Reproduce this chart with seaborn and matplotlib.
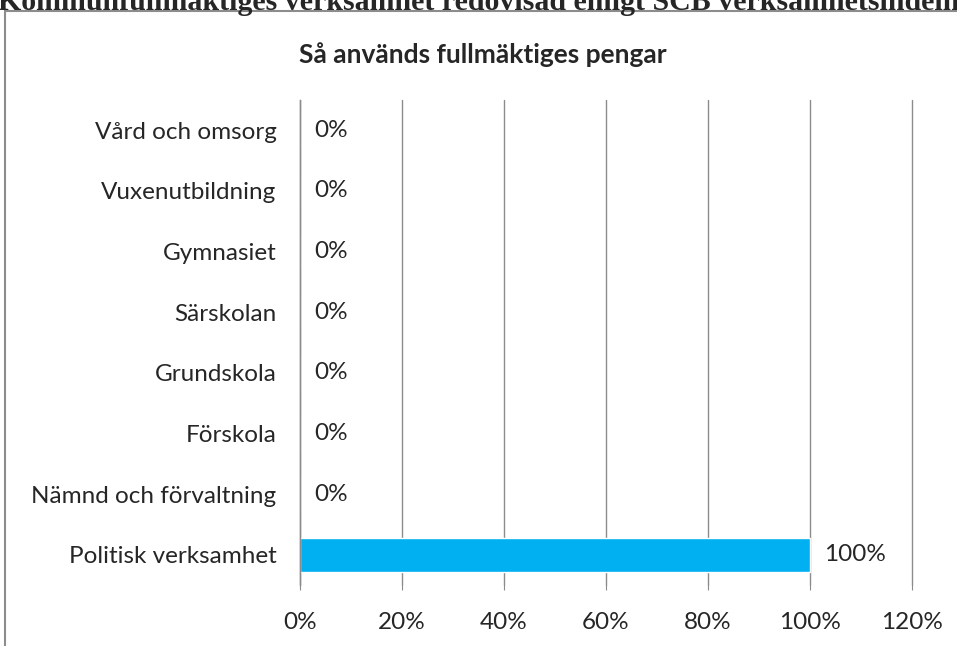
import matplotlib
matplotlib.use("Agg")
from matplotlib import pyplot as plt
from matplotlib.patches import Rectangle
import matplotlib.ticker as mtick
import seaborn as sns
import pandas as pd

categories = ['Vård och omsorg', 'Vuxenutbildning', 'Gymnasiet', 'Särskolan',
              'Grundskola', 'Förskola', 'Nämnd och förvaltning', 'Politisk verksamhet']
shares = [0, 0, 0, 0, 0, 0, 0, 1.0]
value_labels = ['0%', '0%', '0%', '0%', '0%', '0%', '0%', '100%']
x_ticks = [0, 0.2, 0.4, 0.6, 0.8, 1.0, 1.2]

df = pd.DataFrame({'category': categories, 'share': shares})

sns.set_style('white')
plt.rcParams['font.family'] = ['Lato', 'DejaVu Sans']

W, H = 957, 646
fig = plt.figure(figsize=(W / 100, H / 100), dpi=100)

# cut-off heading from the page above the chart
fig.text(-2 / W, 1 - 10 / H, 'Kommunfullmäktiges verksamhet redovisad enligt SCB verksamhetsindelning',
         family='Liberation Serif', fontweight='bold', fontsize=21.5, ha='left', va='baseline')

# chart frame
fig.patches.append(Rectangle((5 / W, -0.1), 2, 1 - 11 / H + 0.1, transform=fig.transFigure,
                             fill=False, edgecolor='#8c8c8c', linewidth=1.5))

ax = fig.add_axes([300 / W, 1 - 585 / H, 612 / W, 485 / H])
sns.barplot(ax=ax, data=df, x='share', y='category', orient='h', color='#00B0F0',
            saturation=1, width=0.56)

ax.set_xlim(0, 1.2)
ax.set_xticks(x_ticks)
ax.xaxis.set_major_formatter(mtick.PercentFormatter(1.0, decimals=0))
ax.grid(axis='x', color='#8c8c8c', linewidth=1)
for line in ax.get_xgridlines():
    line.set_clip_on(False)
ax.set_axisbelow(True)
for s in ['top', 'right', 'bottom']:
    ax.spines[s].set_visible(False)
ax.spines['left'].set_color('#8c8c8c')
ax.spines['left'].set_linewidth(1)
ax.tick_params(axis='x', length=3.6, color='#8c8c8c', bottom=True, labelsize=17.5, pad=15.5)
ax.tick_params(axis='y', length=0, labelsize=17.5, pad=17)
ax.set_xlabel('')
ax.set_ylabel('')

for i, (v, lab) in enumerate(zip(shares, value_labels)):
    ax.annotate(lab, xy=(v, i), xytext=(10, 0), textcoords='offset points',
                va='center', ha='left', fontsize=17.5)

fig.text(483 / W, 1 - 55 / H, 'Så används fullmäktiges pengar', ha='center', va='center',
         fontsize=19, fontweight='bold')

fig.savefig('out.png', dpi=100)
